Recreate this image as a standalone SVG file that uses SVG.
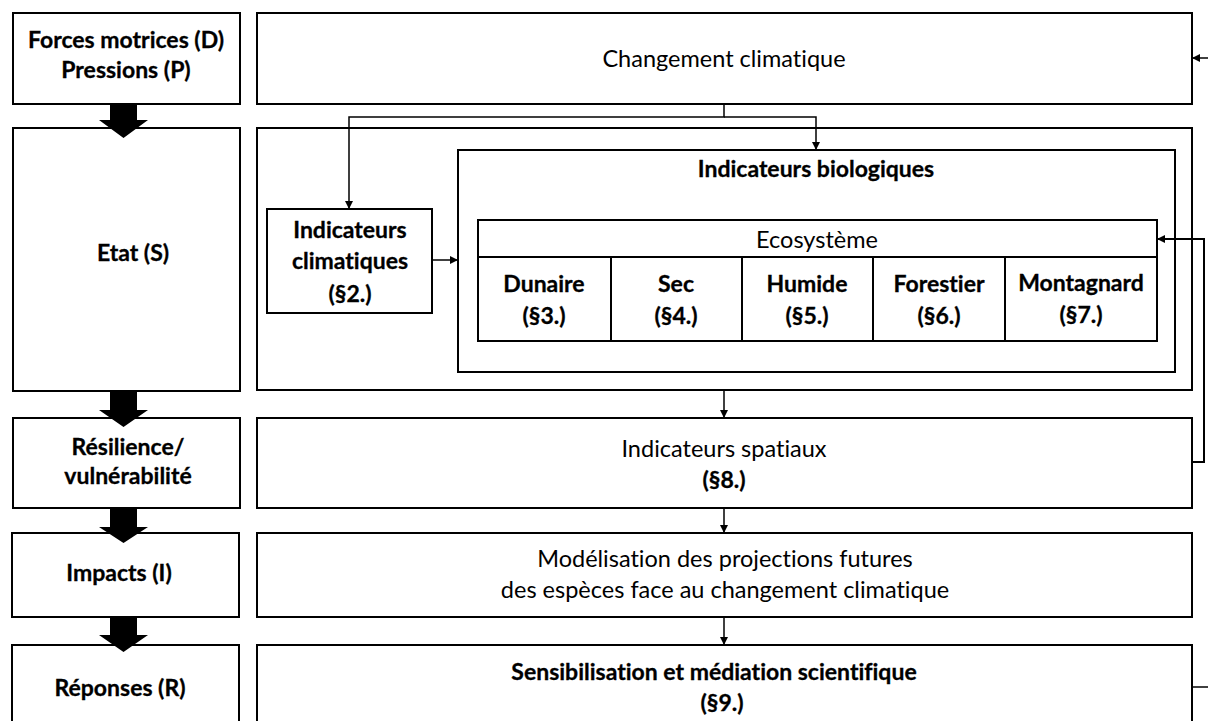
<svg xmlns="http://www.w3.org/2000/svg" width="1208" height="721" viewBox="0 0 1208 721">
  <style>
    .box { fill: #ffffff; stroke: #000000; stroke-width: 2; }
    .inner { fill: none; stroke: #000000; stroke-width: 2; }
    .conn { fill: none; stroke: #000000; stroke-width: 1.5; }
    .big { fill: #000000; stroke: none; }
    text { font-family: Lato, "Liberation Sans", Arial, sans-serif; fill: #000000; text-anchor: middle; font-variant-ligatures: none; }
    .b { font-weight: bold; font-size: 23px; stroke: #000000; stroke-width: 0.3; }
    .r { font-size: 23.5px; }
  </style>
  <defs>
    <marker id="ah" markerWidth="10" markerHeight="10" refX="8" refY="4" orient="auto" markerUnits="userSpaceOnUse">
      <path d="M0,0 L8,4 L0,8 Z" fill="#000000"/>
    </marker>
  </defs>

  <rect width="1208" height="721" fill="#ffffff"/>

  <!-- Left column (DPSIR) -->
  <g id="dpsir-d-p">
    <rect class="box" x="13" y="13" width="227" height="91"/>
    <text class="b" x="126" y="48">Forces motrices (D)</text>
    <text class="b" x="126" y="78">Pressions (P)</text>
  </g>
  <g id="dpsir-s">
    <rect class="box" x="13" y="128" width="227" height="263"/>
    <text class="b" x="133" y="261">Etat (S)</text>
  </g>
  <g id="dpsir-resilience">
    <rect class="box" x="13" y="418" width="227" height="90"/>
    <text class="b" x="128" y="455">Résilience/</text>
    <text class="b" x="128" y="484">vulnérabilité</text>
  </g>
  <g id="dpsir-i">
    <rect class="box" x="12" y="533" width="227" height="84"/>
    <text class="b" x="119" y="581">Impacts (I)</text>
  </g>
  <g id="dpsir-r">
    <rect class="box" x="12" y="645" width="227" height="90"/>
    <text class="b" x="120" y="696">Réponses (R)</text>
  </g>

  <!-- Block arrows between DPSIR boxes -->
  <g id="block-arrows">
    <path class="big" d="M110,104 H137 V120 H148 L123.5,138 L99,120 H110 Z"/>
    <path class="big" d="M110,392 H137 V410 H148 L123.5,427 L99,410 H110 Z"/>
    <path class="big" d="M110,509 H137 V527 H148 L123.5,543 L99,527 H110 Z"/>
    <path class="big" d="M110,618 H137 V635 H148 L123.5,652 L99,635 H110 Z"/>
  </g>

  <!-- Right column -->
  <g id="changement">
    <rect class="box" x="257" y="13" width="935" height="91"/>
    <text class="r" x="724" y="67">Changement climatique</text>
  </g>
  <g id="etat-panel">
    <rect class="box" x="257" y="128" width="935" height="262"/>
  </g>
  <g id="indicateurs-biologiques">
    <rect class="box" x="458" y="150" width="717" height="222"/>
    <text class="b" x="816" y="177">Indicateurs biologiques</text>
  </g>
  <g id="indicateurs-climatiques">
    <rect class="box" x="267" y="209" width="165" height="104"/>
    <text class="b" x="350" y="238">Indicateurs</text>
    <text class="b" x="350" y="269">climatiques</text>
    <text class="b" x="350" y="302">(§2.)</text>
  </g>
  <g id="ecosysteme">
    <rect class="box" x="478" y="220" width="679" height="121"/>
    <line class="inner" x1="478" y1="257" x2="1157" y2="257"/>
    <text class="r" x="817" y="248">Ecosystème</text>
  </g>
  <g id="eco-dunaire">
    <line class="inner" x1="611" y1="257" x2="611" y2="341"/>
    <text class="b" x="544" y="292">Dunaire</text>
    <text class="b" x="544" y="324">(§3.)</text>
  </g>
  <g id="eco-sec">
    <line class="inner" x1="742" y1="257" x2="742" y2="341"/>
    <text class="b" x="676" y="292">Sec</text>
    <text class="b" x="676" y="324">(§4.)</text>
  </g>
  <g id="eco-humide">
    <line class="inner" x1="873" y1="257" x2="873" y2="341"/>
    <text class="b" x="807" y="292">Humide</text>
    <text class="b" x="807" y="324">(§5.)</text>
  </g>
  <g id="eco-forestier">
    <line class="inner" x1="1005" y1="257" x2="1005" y2="341"/>
    <text class="b" x="939" y="292">Forestier</text>
    <text class="b" x="939" y="324">(§6.)</text>
  </g>
  <g id="eco-montagnard">
    <text class="b" x="1081" y="291">Montagnard</text>
    <text class="b" x="1081" y="323">(§7.)</text>
  </g>
  <g id="indicateurs-spatiaux">
    <rect class="box" x="257" y="418" width="935" height="90"/>
    <text class="r" x="724" y="457">Indicateurs spatiaux</text>
    <text class="b" x="724" y="488">(§8.)</text>
  </g>
  <g id="modelisation">
    <rect class="box" x="257" y="533" width="935" height="84"/>
    <text class="r" x="725" y="567">Modélisation des projections futures</text>
    <text class="r" x="725" y="598">des espèces face au changement climatique</text>
  </g>
  <g id="sensibilisation">
    <rect class="box" x="257" y="645" width="935" height="90"/>
    <text class="b" x="714" y="680">Sensibilisation et médiation scientifique</text>
    <text class="b" x="722" y="711">(§9.)</text>
  </g>

  <!-- Connectors -->
  <g id="connectors">
    <polyline class="conn" points="724,104 724,117 349,117 349,209" marker-end="url(#ah)"/>
    <polyline class="conn" points="724,117 816,117 816,150" marker-end="url(#ah)"/>
    <line class="conn" x1="432" y1="260" x2="458" y2="260" marker-end="url(#ah)"/>
    <line class="conn" x1="724" y1="391" x2="724" y2="418" marker-end="url(#ah)"/>
    <line class="conn" x1="724" y1="508" x2="724" y2="533" marker-end="url(#ah)"/>
    <line class="conn" x1="724" y1="617" x2="724" y2="645" marker-end="url(#ah)"/>
    <polyline class="conn" points="1192,462 1204,462 1204,239 1157,239" marker-end="url(#ah)" style="stroke-width:2"/>
    <line class="conn" x1="1192" y1="687" x2="1208" y2="687"/>
    <line class="conn" x1="1208" y1="58" x2="1192" y2="58" marker-end="url(#ah)"/>
  </g>
</svg>
